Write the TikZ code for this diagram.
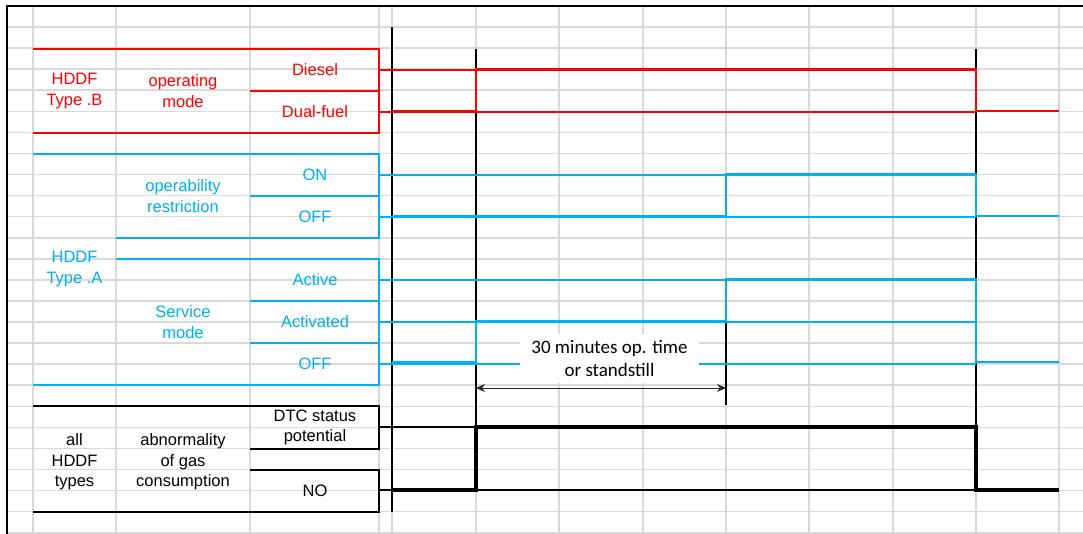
\documentclass[tikz,border=0pt]{standalone}
\usepackage{fontspec}
\setmainfont{Liberation Sans}
\newfontfamily\calib{Carlito}
\usetikzlibrary{arrows.meta}
\definecolor{gridgray}{HTML}{D9D9D9}
\definecolor{xred}{HTML}{FF0000}
\definecolor{xblue}{HTML}{00B0F0}
\tikzset{
  gridline/.style={draw=gridgray, line width=1.6pt},
  frameline/.style={draw=black, line width=2.2pt},
  redbox/.style={draw=xred, line width=1.8pt},
  bluebox/.style={draw=xblue, line width=1.8pt},
  blackbox/.style={draw=black, line width=1.8pt},
  marker/.style={draw=black, line width=1.8pt},
  levelred/.style={draw=xred, line width=1.6pt},
  levelblue/.style={draw=xblue, line width=1.6pt},
  levelblack/.style={draw=black, line width=1.6pt},
  sigred/.style={draw=xred, line width=2.8pt},
  sigblue/.style={draw=xblue, line width=2.8pt},
  sigblack/.style={draw=black, line width=3.8pt},
  lab/.style={font=\fontsize{16.5}{20.5}\selectfont, align=center, inner sep=0pt},
  redlab/.style={lab, text=xred},
  bluelab/.style={lab, text=xblue},
  blacklab/.style={lab, text=black},
  notebox/.style={fill=white, inner sep=0pt, minimum width=179pt, minimum height=49pt,
    align=center, font=\calib\fontsize{19}{23}\selectfont},
  dimarrow/.style={draw=black!85, line width=1pt, {Stealth[length=9pt,width=8pt]}-{Stealth[length=9pt,width=8pt]}}
}
\begin{document}
\begin{tikzpicture}[x=1pt,y=-1pt]
\useasboundingbox (0,0) rectangle (1083,534);
\fill[white] (0,0) rectangle (1083,534);
% grid
\foreach \x in {33,116,250,379,392,476,559,643,726,809,893,976,1059}
  \draw[gridline] (\x,6) -- (\x,534);
\foreach \k in {1,...,25}
  \draw[gridline] (7,{6+21.07*\k}) -- (1083,{6+21.07*\k});
% frame
\draw[frameline] (7,535) -- (7,6) -- (1084,6);

% red table (Type B)
\draw[redbox] (33,49) -- (379,49) -- (379,133) -- (33,133);
\draw[redbox] (250,91) -- (379,91);
% blue table (Type A)
\draw[bluebox] (33,154) -- (379,154) -- (379,238) -- (116,238);
\draw[bluebox] (250,196) -- (379,196);
\draw[bluebox] (116,259) -- (379,259) -- (379,385) -- (33,385);
\draw[bluebox] (250,301) -- (379,301);
\draw[bluebox] (250,343) -- (379,343);
% black table
\draw[blackbox] (33,406) -- (379,406) -- (379,449) -- (250,449);
\draw[blackbox] (250,470) -- (379,470) -- (379,512) -- (33,512);

% labels
\node[redlab] (hddfb) at (74.5,91) {HDDF\\Type .B};
\node[redlab] (opmode) at (183,91) {operating\\mode};
\node[redlab] (diesel) at (315,70) {Diesel};
\node[redlab] (dual) at (315,112) {Dual-fuel};

\node[bluelab] (hddfa) at (74.5,269) {HDDF\\Type .A};
\node[bluelab] (oprest) at (183,196) {operability\\restriction};
\node[bluelab] (on) at (315,175) {ON};
\node[bluelab] (off1) at (315,217) {OFF};
\node[bluelab] (serv) at (183,322) {Service\\mode};
\node[bluelab] (active) at (315,280) {Active};
\node[bluelab] (activated) at (315,322) {Activated};
\node[bluelab] (off2) at (315,364) {OFF};

\node[blacklab] (allh) at (74.5,462) {all\\HDDF\\types};
\node[blacklab] (abn) at (183,462) {abnormality\\of gas\\consumption};
\node[blacklab] (dtc) at (315,427.5) {DTC status\\potential};
\node[blacklab] (no) at (315,491) {NO};

% time markers
\draw[marker] (392,27) -- (392,512);
\draw[marker] (476,49) -- (476,490);
\draw[marker] (726,322) -- (726,405);
\draw[marker] (976,49) -- (976,490);

% level lines
\draw[levelred] (379,70) -- (976,70);
\draw[levelred] (379,112) -- (976,112);
\foreach \y in {175,217,280,322,364}
  \draw[levelblue] (379,\y) -- (976,\y);
\draw[levelblack] (379,427) -- (976,427);
\draw[levelblack] (379,490) -- (976,490);

% signals
\draw[sigred] (392,111) -- (476,111) -- (476,69) -- (976,69) -- (976,111) -- (1059,111);
\draw[sigblue] (392,216) -- (726,216) -- (726,174) -- (976,174) -- (976,216) -- (1059,216);
\draw[sigblue] (392,362) -- (476,362) -- (476,321) -- (726,321) -- (726,279) -- (976,279) -- (976,362) -- (1059,362);
\draw[sigblack] (392,490) -- (476,490) -- (476,427) -- (976,427) -- (976,490) -- (1059,490);

% dimension
\node[notebox] (note) at (609.5,358) {30 minutes op. time\\or standstill};
\coordinate (t1) at (476,388);
\coordinate (t2) at (726,388);
\draw[dimarrow] (t1) -- (t2);
\end{tikzpicture}
\end{document}
